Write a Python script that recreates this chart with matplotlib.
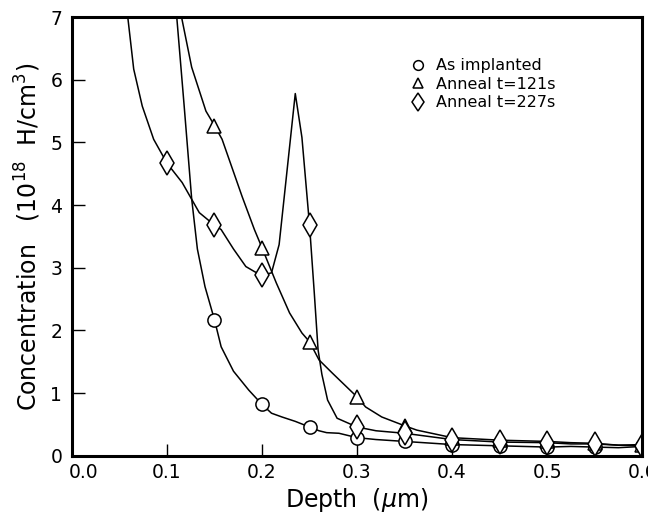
import matplotlib
matplotlib.use("Agg")
import matplotlib.pyplot as plt
import matplotlib.transforms as mtransforms
from matplotlib.lines import Line2D

# Marker positions (depth in um, concentration in 1e18 H/cm^3)
mark_depth = [0.10, 0.15, 0.20, 0.25, 0.30, 0.35, 0.40, 0.45, 0.50, 0.55, 0.60]
implant_mark = [None, 2.17, 0.82, 0.46, 0.29, 0.23, 0.18, 0.16, 0.14, 0.14, 0.15]
anneal121_mark = [None, 5.27, 3.32, 1.82, 0.94, 0.48, 0.29, 0.25, 0.23, 0.20, 0.18]
anneal227_mark = [4.67, 3.68, 2.88, 3.68, 0.46, 0.36, 0.26, 0.22, 0.21, 0.19, 0.16]

# Continuous curves
implant_x = [0.107, 0.118, 0.126, 0.132, 0.140, 0.150, 0.157, 0.170, 0.186, 0.200,
             0.210, 0.221, 0.235, 0.250, 0.260, 0.268, 0.281, 0.300, 0.320, 0.350,
             0.400, 0.450, 0.500, 0.525, 0.550, 0.575, 0.600]
implant_y = [7.60, 5.60, 4.10, 3.30, 2.70, 2.17, 1.74, 1.35, 1.05, 0.82,
             0.68, 0.62, 0.55, 0.46, 0.40, 0.37, 0.36, 0.29, 0.26, 0.23,
             0.18, 0.16, 0.14, 0.15, 0.14, 0.13, 0.15]

anneal121_x = [0.110, 0.126, 0.141, 0.150, 0.158, 0.179, 0.192, 0.200, 0.215, 0.229,
               0.242, 0.250, 0.260, 0.274, 0.300, 0.309, 0.326, 0.350, 0.363, 0.400,
               0.450, 0.500, 0.525, 0.550, 0.575, 0.600]
anneal121_y = [7.40, 6.20, 5.50, 5.27, 5.05, 4.14, 3.61, 3.32, 2.76, 2.28,
               1.96, 1.82, 1.53, 1.32, 0.94, 0.78, 0.62, 0.48, 0.41, 0.29,
               0.25, 0.23, 0.21, 0.20, 0.17, 0.18]

anneal227_x = [0.055, 0.065, 0.074, 0.086, 0.100, 0.116, 0.134, 0.150, 0.157, 0.170,
               0.183, 0.192, 0.200, 0.210, 0.218, 0.225, 0.235, 0.242, 0.250, 0.255,
               0.259, 0.263, 0.269, 0.279, 0.300, 0.320, 0.350, 0.400, 0.450, 0.500,
               0.525, 0.550, 0.575, 0.600]
anneal227_y = [7.50, 6.17, 5.58, 5.05, 4.67, 4.36, 3.88, 3.68, 3.61, 3.30,
               3.02, 2.94, 2.88, 2.92, 3.37, 4.36, 5.78, 5.08, 3.68, 2.60,
               1.69, 1.30, 0.89, 0.60, 0.46, 0.40, 0.36, 0.26, 0.22, 0.21,
               0.19, 0.19, 0.17, 0.16]

labels = ["As implanted", "Anneal t=121s", "Anneal t=227s"]

plt.rcParams["font.family"] = "DejaVu Sans"
fig = plt.figure(figsize=(6.48, 5.18), dpi=100)
ax = fig.add_axes([0.111, 0.12, 0.880, 0.847])

lw = 1.1
ax.plot(implant_x, implant_y, color="black", lw=lw)
ax.plot(anneal121_x, anneal121_y, color="black", lw=lw)
ax.plot(anneal227_x, anneal227_y, color="black", lw=lw)

def pts(ys):
    return [(x, y) for x, y in zip(mark_depth, ys) if y is not None]

mk = dict(color="black", ls="none", mfc="white", mec="black", mew=1.1)
for ys, m, s in [(implant_mark, "o", 9.5), (anneal121_mark, "^", 10.5), (anneal227_mark, "d", 12.5)]:
    p = pts(ys)
    ax.plot([a for a, b in p], [b for a, b in p], marker=m, ms=s, **mk)

ax.set_xlim(0, 0.6)
ax.set_ylim(0, 7)
ax.set_xticks([0.0, 0.1, 0.2, 0.3, 0.4, 0.5, 0.6])
ax.set_xticklabels(["0.0", "0.1", "0.2", "0.3", "0.4", "0.5", "0.6"])
ax.set_yticks(range(0, 8))

for sp in ax.spines.values():
    sp.set_linewidth(2.2)
ax.tick_params(axis="both", direction="in", length=9, width=1.0, labelsize=13.5,
               top=False, right=False)
ax.tick_params(axis="x", pad=5)
ax.tick_params(axis="y", pad=7)

# first x label sits a bit right of its tick
lab0 = ax.get_xticklabels()[0]
lab0.set_transform(lab0.get_transform() +
                   mtransforms.ScaledTranslation(0.12, 0, fig.dpi_scale_trans))

ax.set_xlabel(r"Depth  ($\mu$m)", fontsize=17, labelpad=3)
ax.set_ylabel(r"Concentration   (10$^{18}$  H/cm$^3$)", fontsize=17, labelpad=5)

handles = [
    Line2D([], [], marker="o", ms=7, **mk),
    Line2D([], [], marker="^", ms=7.5, **mk),
    Line2D([], [], marker="d", ms=9.5, **mk),
]
ax.legend(handles, labels, loc="upper left", bbox_to_anchor=(0.593, 0.906),
          frameon=False, fontsize=11.5, handlelength=1.0, handletextpad=0.6,
          labelspacing=0.22, borderpad=0, borderaxespad=0)

fig.savefig("out.png", dpi=100)
